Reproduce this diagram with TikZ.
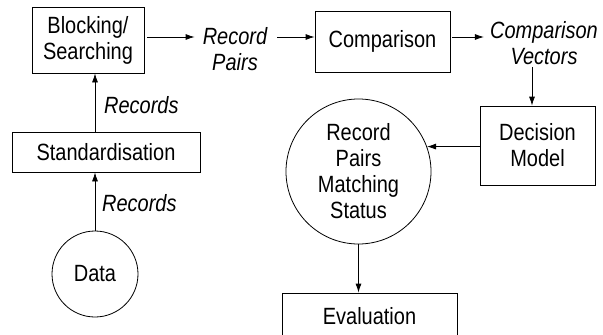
\documentclass[tikz,border=0pt]{standalone}
\usepackage{fontspec}
\setmainfont[FakeStretch=0.85]{Liberation Sans}
\usetikzlibrary{arrows.meta}
\begin{document}
\begin{tikzpicture}[x=1pt,y=-1pt,
  every node/.style={font=\fontsize{23.5}{26}\selectfont, align=center},
  box/.style={draw, line width=0.8pt, inner sep=0pt},
  circ/.style={draw, circle, line width=0.8pt, inner sep=0pt},
  lbl/.style={inner sep=0pt, font=\fontsize{23.5}{26}\selectfont\itshape},
  arr/.style={draw, line width=0.8pt, -{Latex[length=9pt,width=6pt]}}]
\useasboundingbox (0,0) rectangle (603,335);
\clip (0,0) rectangle (603,335);
\node[box, minimum width=112pt, minimum height=66pt] (block) at (88,40) {Blocking/\\Searching};
\node[box, minimum width=135pt, minimum height=61pt] (cmp) at (382.5,41.5) {Comparison};
\node[box, minimum width=115pt, minimum height=79pt] (dec) at (537.5,145.5) {Decision\\Model};
\node[box, minimum width=188pt, minimum height=40pt] (std) at (106,152) {Standardisation};
\node[box, minimum width=175pt, minimum height=46pt] (eval) at (369.5,316) {Evaluation};
\node[circ, minimum size=86pt] (data) at (95,274) {Data};
\node[circ, minimum size=145pt] (rpms) at (358.5,171.5) {Record\\Pairs\\Matching\\Status};
\node[lbl] (rp) at (235,49) {Record\\Pairs};
\node[lbl] (cv) at (544,43) {Comparison\\Vectors};
\node[lbl, anchor=west] (rec1) at (104,105) {Records};
\node[lbl, anchor=west] (rec2) at (102,203) {Records};
\coordinate (r1) at (0,37);
\coordinate (colx) at (532,0);
\draw[arr, shorten <=3pt, shorten >=8pt] (block.east |- r1) -- (rp.west |- r1);
\draw[arr, shorten <=10pt] (rp.east |- r1) -- (cmp.west |- r1);
\draw[arr, shorten <=2pt, shorten >=6pt] (cmp.east |- r1) -- (cv.west |- r1);
\draw[arr, shorten <=2pt] (cv.south -| colx) -- (dec.north -| colx);
\draw[arr] (dec.west |- rpms.20) -- (rpms.20);
\draw[arr] (rpms.south) -- (eval.north -| rpms.south);
\draw[arr] (data.north) -- (std.south -| data.north);
\draw[arr] (std.north -| data.north) -- (block.south -| data.north);
\end{tikzpicture}
\end{document}
